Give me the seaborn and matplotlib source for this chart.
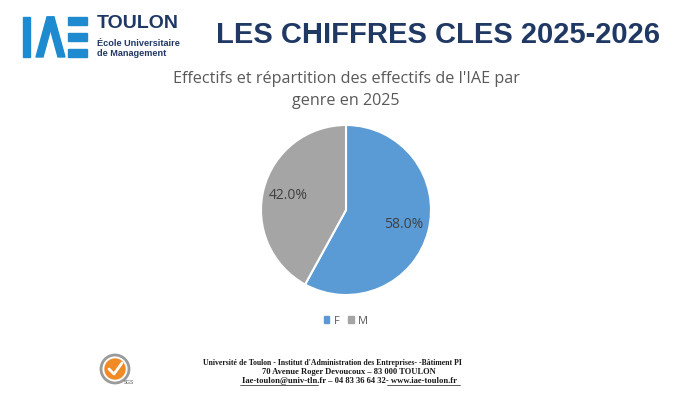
import matplotlib
matplotlib.use("Agg")
import matplotlib.pyplot as plt
import matplotlib.patches as mpatches
import seaborn as sns

# data
genres = ["F", "M"]
parts = [58.0, 42.0]
couleurs = ["#5B9BD5", "#A5A5A5"]

titre_page = "LES CHIFFRES CLES 2025-2026"
titre_graph = "Effectifs et répartition des effectifs de l'IAE par\ngenre en 2025"
pied = [
    "Université de Toulon - Institut d'Administration des Entreprises- -Bâtiment PI",
    "70 Avenue Roger Devoucoux – 83 000 TOULON",
    "Iae-toulon@univ-tln.fr – 04 83 36 64 32- www.iae-toulon.fr",
]

sns.set_theme(style="white")
plt.rcParams['font.family'] = ['Open Sans', 'DejaVu Sans']

fig = plt.figure(figsize=(7, 3.94), dpi=100)
W, H = 700, 394

def fx(x):
    return x / W

def fy(y):
    return 1 - y / H

# logo IAE
navy = "#1F3864"
bleu = "#1E8AD0"
logo = fig.add_axes([0, 0, 1, 1], zorder=0)
logo.set_xlim(0, W)
logo.set_ylim(H, 0)
logo.axis("off")
logo.add_patch(mpatches.Rectangle((23, 17), 7, 40, color=bleu))
logo.add_patch(mpatches.Polygon([(36, 57), (47, 17), (54, 17), (43, 57)], color=bleu))
logo.add_patch(mpatches.Polygon([(47, 17), (54, 17), (65, 57), (58, 57)], color=bleu))
for yy in (17, 33, 49):
    logo.add_patch(mpatches.Rectangle((68, yy), 19, 8, color=bleu))
fig.text(fx(97), fy(23), "TOULON", color=navy, fontsize=14, fontweight="bold",
         family="Liberation Sans", va="center")
fig.text(fx(97), fy(43), "École Universitaire", color=navy, fontsize=6.6,
         fontweight="bold", family="Liberation Sans", va="center")
fig.text(fx(97), fy(54), "de Management", color=navy, fontsize=6.6,
         fontweight="bold", family="Liberation Sans", va="center")

fig.text(fx(438), fy(35), titre_page, color=navy, fontsize=21, fontweight="bold",
         family="Liberation Sans", ha="center", va="center")

fig.text(fx(346), fy(90), titre_graph, color="#595959", fontsize=11.6,
         ha="center", va="center", linespacing=1.45)

# camembert
ax = fig.add_axes([fx(346 - 85), fy(295), fx(170), 170 / H])
wedges, txt, pcts = ax.pie(parts, colors=couleurs, startangle=90, counterclock=False,
                           autopct="%.1f%%", pctdistance=0.7, radius=1,
                           wedgeprops=dict(edgecolor="white", linewidth=1.5),
                           textprops=dict(color="#404040", fontsize=10))
ax.set_xlim(-1, 1)
ax.set_ylim(-1, 1)
ax.axis("off")

handles = [mpatches.Patch(color=c, label=g) for c, g in zip(couleurs, genres)]
fig.legend(handles=handles, loc="center", bbox_to_anchor=(fx(346), fy(321)), ncol=2,
           frameon=False, fontsize=8, handlelength=0.5, handleheight=0.5,
           handletextpad=0.4, columnspacing=0.8, labelcolor="#595959")

# logo SGS
logo.add_patch(mpatches.Circle((115, 369), 14, facecolor="none", edgecolor="#9A9A9A", linewidth=2))
logo.add_patch(mpatches.Circle((115, 369), 10, color="#F08A24"))
logo.plot([109, 114, 122], [369, 374, 363], color="white", linewidth=2)
fig.text(fx(124), fy(384), "SGS", fontsize=3.5, color="#555555", family="Liberation Sans")

centres = [332, 349, 349]
tailles = [5.6, 6.1, 6.2]
for i, ligne in enumerate(pied):
    fig.text(fx(centres[i]), fy(363 + 9 * i), ligne, fontsize=tailles[i], fontweight="bold",
             family="Liberation Serif", ha="center", va="center", color="#1a1a1a")
logo.plot([240, 318], [385, 385], color="#1a1a1a", linewidth=0.5)
logo.plot([387, 460], [385, 385], color="#1a1a1a", linewidth=0.5)

fig.savefig("out.png", dpi=100, facecolor="white")
